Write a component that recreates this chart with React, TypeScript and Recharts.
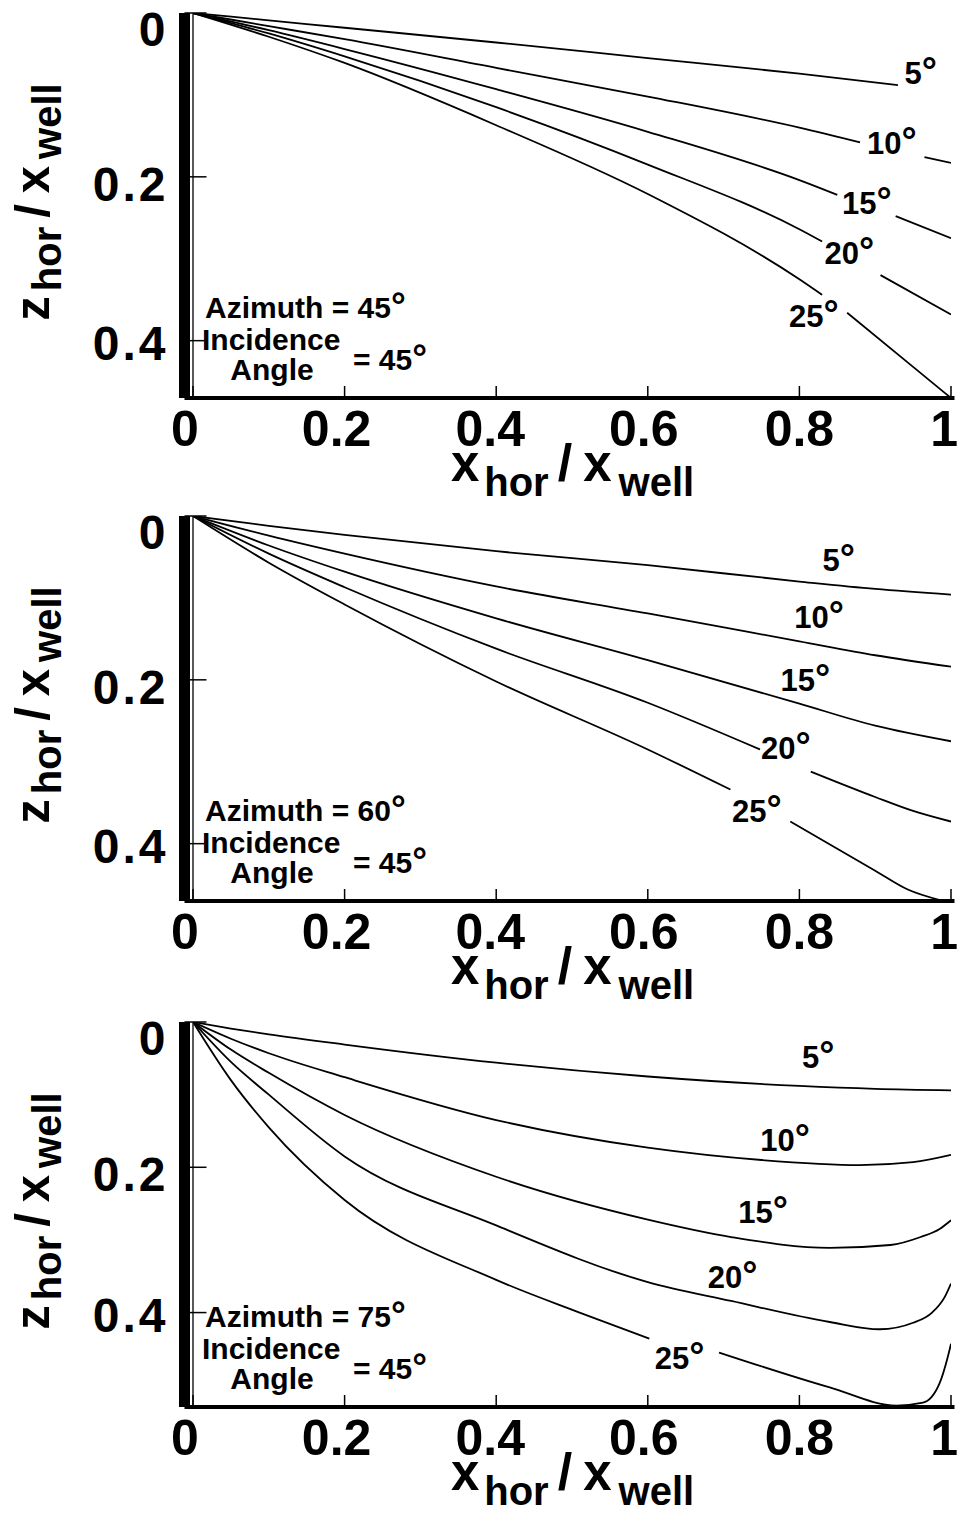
import React from 'react';
import { LineChart, Line, XAxis, YAxis, ReferenceDot, ReferenceLine } from 'recharts';

type Pt = [number, number | null];

// ---------- tick / label text ----------
const xTicks = [0, 0.2, 0.4, 0.6, 0.8, 1];
const xTickLabels = ['0', '0.2', '0.4', '0.6', '0.8', '1'];
const xInnerTicks = [0.2, 0.4, 0.6, 0.8];
const yTicks = [0, 0.2, 0.4];
const yTickLabels = ['0', '0.2', '0.4'];
const angleValues = ['5', '10', '15', '20', '25'];
const azimuths = ['45', '60', '75'];
const incidence = '45';
const yMaxes = [0.47, 0.47, 0.53];
const rightTicks45 = [0.1, 0.2, 0.4];
const rightTicks60 = [0.2, 0.4];
const rightTicks75 = [0.2, 0.4];

// ---------- Azimuth = 45° ----------
const az45_5: Pt[] = [[0, 0], [0.1, 0.009], [0.2, 0.018], [0.4, 0.036], [0.6, 0.055], [0.8, 0.074], [0.93, 0.088]];
const az45_10: Pt[] = [[0, 0], [0.1, 0.016], [0.2, 0.032], [0.4, 0.067], [0.6, 0.102], [0.8, 0.14], [0.88, 0.158], [0.92, null], [0.965, 0.176], [1, 0.183]];
const az45_15: Pt[] = [[0, 0], [0.1, 0.021], [0.2, 0.044], [0.4, 0.093], [0.6, 0.145], [0.8, 0.204], [0.85, 0.222], [0.89, null], [0.927, 0.248], [1, 0.275]];
const az45_20: Pt[] = [[0, 0], [0.1, 0.025], [0.2, 0.053], [0.4, 0.115], [0.6, 0.185], [0.8, 0.264], [0.83, 0.279], [0.87, null], [0.907, 0.32], [1, 0.368]];
const az45_25: Pt[] = [[0, 0], [0.1, 0.029], [0.2, 0.061], [0.4, 0.137], [0.6, 0.221], [0.8, 0.325], [0.83, 0.344], [0.845, null], [0.863, 0.366], [0.95, 0.432], [1, 0.47]];
const lab45: Pt[] = [[0.96, 0.0735], [0.922, 0.159], [0.889, 0.232], [0.866, 0.293], [0.819, 0.37]];

// ---------- Azimuth = 60° ----------
const az60_5: Pt[] = [[0, 0], [0.1, 0.012], [0.2, 0.023], [0.4, 0.043], [0.6, 0.06], [0.8, 0.08], [0.9, 0.089], [1, 0.096]];
const az60_10: Pt[] = [[0, 0], [0.1, 0.024], [0.2, 0.046], [0.4, 0.086], [0.6, 0.119], [0.8, 0.153], [0.9, 0.17], [1, 0.184]];
const az60_15: Pt[] = [[0, 0], [0.1, 0.036], [0.2, 0.068], [0.4, 0.125], [0.6, 0.176], [0.8, 0.229], [0.9, 0.256], [1, 0.275]];
const az60_20: Pt[] = [[0, 0], [0.1, 0.046], [0.2, 0.087], [0.4, 0.162], [0.6, 0.228], [0.748, 0.285], [0.78, null], [0.815, 0.312], [0.9, 0.343], [0.95, 0.36], [1, 0.373]];
const az60_25: Pt[] = [[0, 0], [0.1, 0.057], [0.2, 0.108], [0.4, 0.202], [0.6, 0.285], [0.709, 0.334], [0.75, null], [0.788, 0.373], [0.9, 0.433], [0.943, 0.456], [0.99, 0.47]];
const lab60: Pt[] = [[0.852, 0.054], [0.826, 0.123], [0.808, 0.2], [0.782, 0.283], [0.744, 0.36]];

// ---------- Azimuth = 75° ----------
const az75_5: Pt[] = [[0, 0], [0.05, 0.009], [0.1, 0.017], [0.2, 0.031], [0.4, 0.056], [0.6, 0.075], [0.8, 0.088], [0.9, 0.092], [1, 0.094]];
const az75_10: Pt[] = [[0, 0], [0.05, 0.023], [0.1, 0.043], [0.2, 0.076], [0.4, 0.135], [0.6, 0.173], [0.75, 0.19], [0.88, 0.197], [0.95, 0.193], [1, 0.183]];
const az75_15: Pt[] = [[0, 0], [0.05, 0.038], [0.1, 0.07], [0.2, 0.128], [0.4, 0.213], [0.6, 0.272], [0.71, 0.296], [0.84, 0.311], [0.92, 0.307], [0.96, 0.296], [0.985, 0.285], [1, 0.273]];
const az75_20: Pt[] = [[0, 0], [0.05, 0.055], [0.1, 0.1], [0.2, 0.185], [0.4, 0.28], [0.6, 0.358], [0.71, 0.384], [0.84, 0.413], [0.906, 0.423], [0.95, 0.414], [0.975, 0.4], [0.992, 0.378], [1, 0.36]];
const az75_25: Pt[] = [[0, 0], [0.05, 0.08], [0.1, 0.145], [0.2, 0.245], [0.4, 0.355], [0.51, 0.4], [0.602, 0.436], [0.65, null], [0.694, 0.455], [0.84, 0.503], [0.928, 0.528], [0.963, 0.524], [0.985, 0.497], [0.996, 0.46], [1, 0.443]];
const lab75: Pt[] = [[0.825, 0.048], [0.781, 0.163], [0.752, 0.262], [0.712, 0.351], [0.642, 0.462]];

const FONT = "'Liberation Sans', Arial, Helvetica, sans-serif";

const toData = (pts: Pt[]) => pts.map(([x, y]) => ({ x, y }));

const xLabelShift = [-8, -8, -6, -4, 0, 0];
const XTick = (props: any) => {
  const { x, y, index } = props;
  const last = index === xTickLabels.length - 1;
  return (
    <text
      x={last ? 958 : x + xLabelShift[index]}
      y={y + 48}
      textAnchor={last ? 'end' : 'middle'}
      fontFamily={FONT}
      fontWeight="bold"
      fontSize={50}
      fill="#000"
    >
      {xTickLabels[index]}
    </text>
  );
};

const yLabelShift = [16, 7, 2];
const YTick = (props: any) => {
  const { x, y, index } = props;
  return (
    <text x={x - 16} y={y + yLabelShift[index] + 17} textAnchor="end" fontFamily={FONT} fontWeight="bold" fontSize={48} letterSpacing={3} fill="#000">
      {yTickLabels[index]}
    </text>
  );
};

const TitleSpans = ({ first, sub, slash, subSize }: { first: string; sub: number; slash: number; subSize: number }) => (
  <>
    {first}
    <tspan dx={5} dy={sub} fontSize={subSize}>hor</tspan>
    <tspan dx={9} dy={-sub} fontSize={slash}>/</tspan>
    <tspan dx={11}>x</tspan>
    <tspan dx={7} dy={sub} fontSize={subSize}>well</tspan>
  </>
);

const XTitle = (props: any) => {
  const vb = props.viewBox;
  const cx = vb.x + vb.width / 2 + 3;
  const by = vb.y + 83;
  return (
    <text x={cx} y={by} textAnchor="middle" fontFamily={FONT} fontWeight="bold" fontSize={51} fill="#000">
      <TitleSpans first="x" sub={15} slash={52} subSize={40} />
    </text>
  );
};

const YTitle = (props: any) => {
  const vb = props.viewBox;
  const bx = 49;
  const cy = vb.y + 189;
  return (
    <text x={bx} y={cy} transform={`rotate(-90 ${bx} ${cy})`} textAnchor="middle" fontFamily={FONT} fontWeight="bold" fontSize={49} fill="#000">
      <TitleSpans first="z" sub={12} slash={49} subSize={40} />
    </text>
  );
};

const Deg = ({ size }: { size: number }) => <tspan fontSize={size}>°</tspan>;

const Annotation = ({ viewBox, azimuth }: any) => {
  const x0 = viewBox.x;
  const y0 = viewBox.y;
  const common = { fontFamily: FONT, fontWeight: 'bold' as const, fontSize: 30, fill: '#000' };
  return (
    <g>
      <text x={x0 + 12} y={y0 + 305} {...common}>
        {`Azimuth = ${azimuth}`}
        <Deg size={37} />
      </text>
      <text x={x0 + 9} y={y0 + 337} {...common}>Incidence</text>
      <text x={x0 + 79} y={y0 + 367} textAnchor="middle" {...common}>Angle</text>
      <text x={x0 + 160} y={y0 + 357} {...common}>
        {`= ${incidence}`}
        <Deg size={37} />
      </text>
    </g>
  );
};

type PanelProps = {
  series: Pt[][];
  labels: Pt[];
  yMax: number;
  rightTicks: number[];
  azimuth: string;
};

const Panel = ({ series, labels, yMax, rightTicks, azimuth }: PanelProps) => (
  <LineChart width={959} height={505} margin={{ top: 13, right: 4.5, bottom: 0, left: 0 }}>
    <XAxis
      xAxisId="b"
      type="number"
      dataKey="x"
      domain={[0, 1]}
      ticks={xTicks}
      allowDataOverflow
      padding={{ left: 8.5, right: 3.5 }}
      height={107}
      orientation="bottom"
      axisLine={{ stroke: '#000', strokeWidth: 4 }}
      tickLine={{ stroke: '#000', strokeWidth: 1.5 }}
      tickSize={-12}
      tickMargin={12}
      tick={XTick}
      label={(p: any) => <XTitle {...p} />}
    />
    <XAxis
      xAxisId="t"
      type="number"
      dataKey="x"
      domain={[0, 1]}
      ticks={xInnerTicks}
      allowDataOverflow
      padding={{ left: 8.5, right: 3.5 }}
      height={0}
      orientation="top"
      axisLine={{ stroke: '#000', strokeWidth: 3 }}
      tickLine={{ stroke: '#000', strokeWidth: 1.5 }}
      tickSize={-12}
      tick={false}
    />
    <YAxis
      yAxisId="l"
      type="number"
      domain={[0, yMax]}
      reversed
      ticks={yTicks}
      allowDataOverflow
      width={184.5}
      axisLine={{ stroke: '#000', strokeWidth: 11 }}
      tickLine={{ stroke: '#000', strokeWidth: 1.5 }}
      tickSize={-22}
      tickMargin={22}
      tick={YTick}
      label={(p: any) => <YTitle {...p} />}
    />
    <YAxis
      yAxisId="r"
      orientation="right"
      type="number"
      domain={[0, yMax]}
      reversed
      ticks={rightTicks}
      allowDataOverflow
      width={0}
      axisLine={{ stroke: '#000', strokeWidth: 9 }}
      tickLine={{ stroke: '#000', strokeWidth: 1.5 }}
      tickSize={-14}
      tick={false}
    />
    <ReferenceLine xAxisId="b" yAxisId="l" x={0} stroke="#000" strokeWidth={1.3} />
    {series.map((pts, i) => (
      <Line
        key={i}
        xAxisId="b"
        yAxisId="l"
        data={toData(pts)}
        dataKey="y"
        type="monotone"
        stroke="#000"
        strokeWidth={1.8}
        dot={false}
        activeDot={false}
        connectNulls={false}
        isAnimationActive={false}
      />
    ))}
    {labels.map(([lx, ly], i) => (
      <ReferenceDot
        key={`lab${i}`}
        xAxisId="b"
        yAxisId="l"
        x={lx}
        y={ly as number}
        r={0}
        fill="none"
        stroke="none"
        ifOverflow="visible"
        label={(p: any) => (
          <text x={p.viewBox.x} y={p.viewBox.y + 11} textAnchor="middle" fontFamily={FONT} fontWeight="bold" fontSize={31} fill="#000">
            {angleValues[i]}
            <Deg size={38} />
          </text>
        )}
      />
    ))}
    <ReferenceDot
      xAxisId="b"
      yAxisId="l"
      x={0}
      y={0}
      r={0}
      fill="none"
      stroke="none"
      ifOverflow="visible"
      label={(p: any) => <Annotation viewBox={p.viewBox} azimuth={azimuth} />}
    />
  </LineChart>
);

export default function App() {
  const tops = [0, 503, 1009];
  const panels: PanelProps[] = [
    { series: [az45_5, az45_10, az45_15, az45_20, az45_25], labels: lab45, yMax: yMaxes[0], rightTicks: rightTicks45, azimuth: azimuths[0] },
    { series: [az60_5, az60_10, az60_15, az60_20, az60_25], labels: lab60, yMax: yMaxes[1], rightTicks: rightTicks60, azimuth: azimuths[1] },
    { series: [az75_5, az75_10, az75_15, az75_20, az75_25], labels: lab75, yMax: yMaxes[2], rightTicks: rightTicks75, azimuth: azimuths[2] },
  ];
  return (
    <div style={{ position: 'absolute', left: 0, top: 0, width: 959, height: 1517, background: '#fff', overflow: 'hidden' }}>
      {panels.map((p, i) => (
        <div key={i} style={{ position: 'absolute', left: 0, top: tops[i], width: 959, height: 505 }}>
          <Panel {...p} />
        </div>
      ))}
    </div>
  );
}
